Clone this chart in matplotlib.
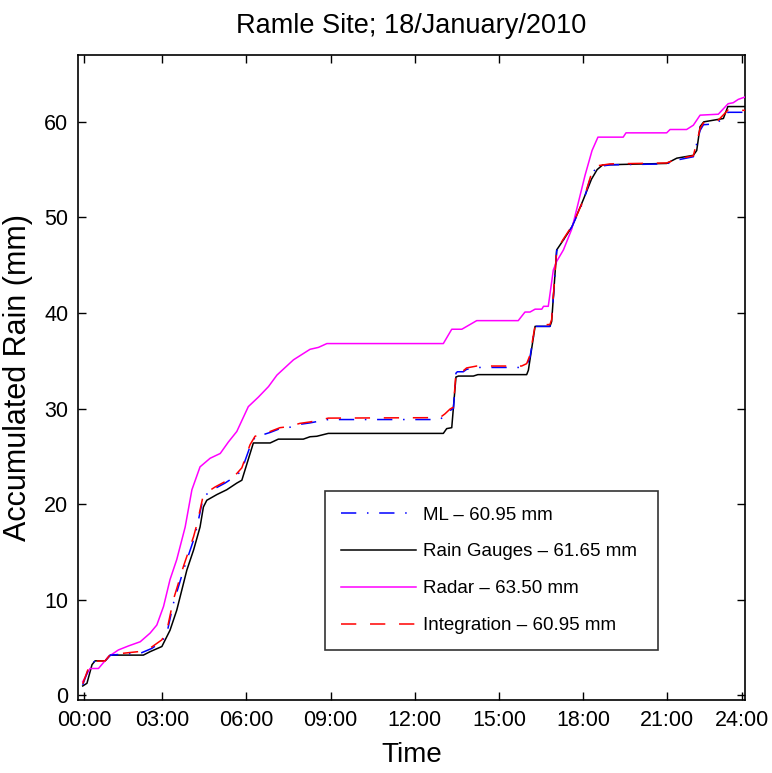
import matplotlib
matplotlib.use("Agg")
import matplotlib.pyplot as plt

plt.rcParams['font.family'] = ['Liberation Sans', 'DejaVu Sans']

# ---- data (hours, accumulated mm) ----
gauge_t = [0.17, 0.32, 0.50, 0.61, 0.97, 1.15, 2.33, 2.57, 2.99, 3.28, 3.52, 3.88, 4.12, 4.35,
           4.47, 4.59, 4.95, 5.30, 5.66, 5.84, 6.25, 6.85, 7.14, 8.03, 8.27, 8.51, 8.92, 13.02,
           13.14, 13.32, 13.47, 13.56, 14.09, 14.25, 15.99, 16.05, 16.29, 16.82, 16.88, 17.06,
           17.29, 17.60, 18.00, 18.30, 18.50, 18.70, 20.98, 21.34, 21.93, 22.05, 22.17, 22.30,
           23.00, 23.16, 23.77]
gauge_v = [0.97, 1.25, 3.2, 3.6, 3.6, 4.2, 4.2, 4.56, 5.1, 6.8, 8.9, 13.1, 15.2, 17.6,
           19.7, 20.4, 21.0, 21.5, 22.2, 22.5, 26.4, 26.4, 26.8, 26.8, 27.05, 27.1, 27.4, 27.4,
           27.9, 28.0, 33.3, 33.4, 33.4, 33.55, 33.55, 34.0, 38.6, 38.6, 39.1, 46.6,
           47.6, 49.0, 51.8, 54.0, 55.0, 55.5, 55.65, 56.2, 56.5, 57.0, 59.5, 60.0,
           60.35, 61.6, 61.6]

radar_t = [0.17, 0.43, 0.73, 1.09, 1.44, 1.80, 2.22, 2.57, 2.81, 3.05, 3.28, 3.52, 3.82, 4.06,
           4.35, 4.71, 5.07, 5.36, 5.66, 6.07, 6.43, 6.79, 7.09, 7.68, 8.27, 8.57, 8.87, 13.02,
           13.32, 13.68, 14.21, 15.69, 15.93, 16.11, 16.29, 16.53, 16.59, 16.76, 16.94, 17.06,
           17.30, 17.60, 18.07, 18.32, 18.53, 19.43, 19.53, 20.98, 21.10, 21.69, 21.93, 22.17,
           22.82, 23.17, 23.35, 23.53, 23.77]
radar_v = [1.42, 2.8, 2.8, 4.04, 4.74, 5.16, 5.6, 6.5, 7.35, 9.3, 12.1, 14.2, 17.6, 21.5,
           23.9, 24.8, 25.3, 26.5, 27.6, 30.2, 31.2, 32.3, 33.5, 35.1, 36.2, 36.4, 36.8, 36.8,
           38.3, 38.3, 39.2, 39.2, 40.1, 40.1, 40.4, 40.4, 40.7, 40.7, 44.5, 45.4,
           46.6, 48.8, 54.4, 57.0, 58.4, 58.4, 58.85, 58.85, 59.2, 59.2, 59.65, 60.7,
           60.8, 61.9, 62.0, 62.35, 62.6]

ml_t = [0.17, 0.43, 0.55, 0.97, 1.15, 2.27, 2.63, 2.99, 3.17, 3.40, 3.76, 4.12, 4.24, 4.47,
        4.89, 5.24, 5.66, 5.84, 6.13, 6.31, 6.85, 7.20, 7.50, 7.91, 8.27, 8.63, 8.92, 12.90,
        13.08, 13.26, 13.38, 13.47, 13.52, 13.73, 13.85, 14.21, 15.81, 15.99, 16.11, 16.29,
        16.82, 16.88, 17.06, 17.29, 17.60, 18.00, 18.30, 18.50, 18.96, 20.98, 21.34, 21.93,
        22.17, 22.29, 22.76, 23.17, 23.77]
ml_v = [1.08, 3.2, 3.5, 3.6, 4.2, 4.45, 4.9, 5.6, 6.5, 9.6, 13.1, 16.25, 17.6, 20.8,
        21.65, 22.2, 23.0, 23.6, 26.0, 27.0, 27.5, 27.9, 28.0, 28.35, 28.5, 28.7, 28.85, 28.85,
        29.3, 29.8, 30.0, 33.7, 33.85, 33.85, 34.1, 34.3, 34.3, 34.55, 35.4, 38.6,
        38.6, 39.1, 46.5, 47.6, 49.0, 51.6, 54.5, 55.3, 55.5, 55.6, 56.0, 56.35,
        59.1, 59.7, 59.8, 61.0, 61.0]

integ_t = [0.17, 0.43, 0.55, 0.97, 1.15, 2.27, 2.63, 2.99, 3.17, 3.40, 3.76, 4.12, 4.24, 4.47,
           4.89, 5.24, 5.66, 5.84, 6.13, 6.31, 6.85, 7.20, 7.50, 7.91, 8.27, 8.63, 8.92, 12.90,
           13.08, 13.26, 13.38, 13.47, 13.52, 13.73, 13.85, 14.21, 15.81, 15.99, 16.11, 16.29,
           16.82, 16.88, 17.06, 17.29, 17.60, 18.00, 18.30, 18.50, 18.96, 20.98, 21.34, 21.93,
           22.17, 22.29, 22.76, 23.17, 23.77]
integ_v = [1.2, 3.3, 3.55, 3.6, 4.25, 4.6, 5.05, 5.8, 6.8, 10.0, 13.5, 16.6, 17.9, 21.0,
           21.8, 22.35, 23.2, 23.8, 26.2, 27.1, 27.6, 28.0, 28.1, 28.45, 28.6, 28.8, 29.0, 29.05,
           29.45, 29.95, 30.15, 33.8, 33.95, 33.95, 34.25, 34.45, 34.45, 34.7, 35.6, 38.7,
           38.8, 39.3, 46.6, 47.7, 49.1, 51.7, 54.6, 55.4, 55.6, 55.7, 56.1, 56.45,
           59.3, 59.9, 60.0, 61.25, 61.2]

xtick_pos = [0.22, 3, 6, 9, 12, 15, 18, 21, 23.66]
xtick_lab = ['00:00', '03:00', '06:00', '09:00', '12:00', '15:00', '18:00', '21:00', '24:00']
ytick_pos = [0, 10, 20, 30, 40, 50, 60]

labels = ['ML \u2013 60.95 mm', 'Rain Gauges \u2013 61.65 mm', 'Radar \u2013 63.50 mm',
          'Integration \u2013 60.95 mm']

fig = plt.figure(figsize=(7.72, 7.73), dpi=100)
ax = fig.add_axes([0.101, 0.0944, 0.864, 0.8345])

ax.plot(ml_t, ml_v, color='#0000ff', lw=1.1, dashes=(10, 7, 1, 7), label=labels[0], zorder=4)
ax.plot(gauge_t, gauge_v, color='black', lw=1.1, label=labels[1], zorder=3)
ax.plot(radar_t, radar_v, color='#ff00ff', lw=1.1, label=labels[2], zorder=3)
ax.plot(integ_t, integ_v, color='#ff0000', lw=1.1, dashes=(10, 9), label=labels[3], zorder=5)

ax.set_xlim(0, 23.77)
ax.set_ylim(-0.5, 67)
ax.set_xticks(xtick_pos)
ax.set_xticklabels(xtick_lab)
ax.set_yticks(ytick_pos)
ax.tick_params(direction='in', top=True, right=True, length=6, width=1.0,
               labelsize=15.5, pad=7)
for s in ax.spines.values():
    s.set_linewidth(1.2)

ax.set_title('Ramle Site; 18/January/2010', fontsize=19.5, pad=16)
ax.set_xlabel('Time', fontsize=20, labelpad=8)
ax.set_ylabel('Accumulated Rain (mm)', fontsize=22, labelpad=8)

leg = ax.legend(loc='lower left', bbox_to_anchor=(0.370, 0.0775, 0.50, 0.2545), mode='expand',
                fontsize=13.5, frameon=True, fancybox=False, edgecolor='black',
                handlelength=4.0, handletextpad=0.4, labelspacing=1.05,
                borderpad=0.85, borderaxespad=0)
leg.get_frame().set_linewidth(1.2)

fig.savefig('out.png', dpi=100)
